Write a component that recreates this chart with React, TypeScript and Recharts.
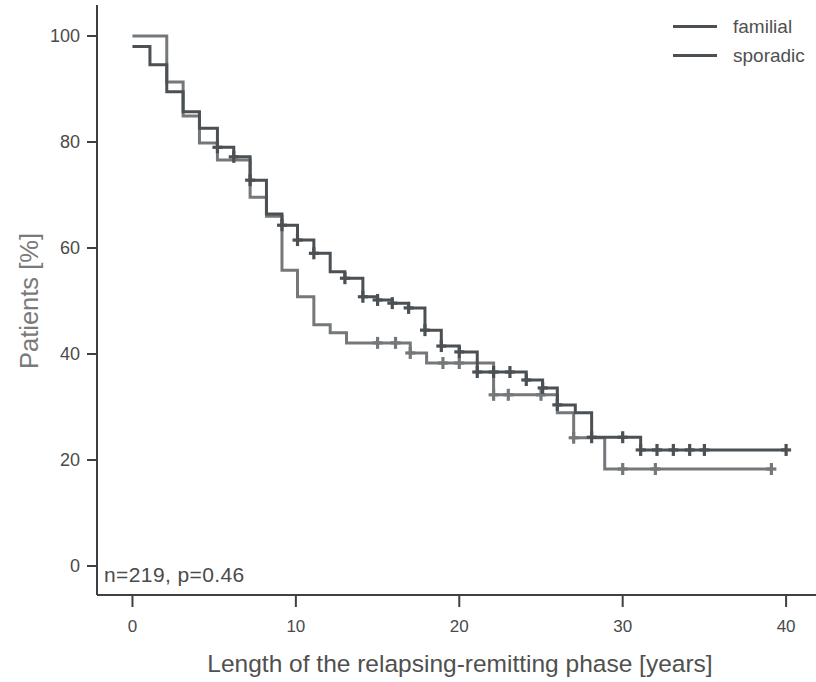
import React from 'react'
import {
  ComposedChart,
  Line,
  Scatter,
  XAxis,
  YAxis,
  Label,
} from 'recharts'

// Kaplan-Meier steps: t = years, s = % patients
const familialSteps = [
  { t: 0, s: 98 },
  { t: 1.07, s: 94.6 },
  { t: 2.1, s: 89.5 },
  { t: 3.1, s: 85.7 },
  { t: 4.1, s: 82.6 },
  { t: 5.2, s: 79 },
  { t: 6.2, s: 77.2 },
  { t: 7.2, s: 72.8 },
  { t: 8.2, s: 66.4 },
  { t: 9.15, s: 64.3 },
  { t: 10.1, s: 61.5 },
  { t: 11.1, s: 59 },
  { t: 12.1, s: 55.5 },
  { t: 13.0, s: 54.3 },
  { t: 14.1, s: 50.8 },
  { t: 15.0, s: 50.2 },
  { t: 15.9, s: 49.6 },
  { t: 16.9, s: 48.7 },
  { t: 17.9, s: 44.5 },
  { t: 18.9, s: 41.5 },
  { t: 20.0, s: 40.4 },
  { t: 21.1, s: 36.6 },
  { t: 24.1, s: 35.1 },
  { t: 25.1, s: 33.6 },
  { t: 26.0, s: 30.4 },
  { t: 27.1, s: 28.9 },
  { t: 28.1, s: 24.3 },
  { t: 31.1, s: 21.9 },
  { t: 40.0, s: 21.9 },
]

const familialCensored = [
  { t: 5.2, s: 79 },
  { t: 6.2, s: 77.2 },
  { t: 7.2, s: 72.8 },
  { t: 9.15, s: 64.3 },
  { t: 10.1, s: 61.5 },
  { t: 11.1, s: 59 },
  { t: 13.0, s: 54.3 },
  { t: 14.1, s: 50.8 },
  { t: 15.0, s: 50.2 },
  { t: 15.9, s: 49.6 },
  { t: 16.9, s: 48.7 },
  { t: 17.9, s: 44.5 },
  { t: 18.9, s: 41.5 },
  { t: 20.0, s: 40.4 },
  { t: 21.1, s: 36.6 },
  { t: 22.1, s: 36.6 },
  { t: 23.1, s: 36.6 },
  { t: 24.1, s: 35.1 },
  { t: 25.1, s: 33.6 },
  { t: 26.0, s: 30.4 },
  { t: 28.1, s: 24.3 },
  { t: 30.0, s: 24.3 },
  { t: 31.1, s: 21.9 },
  { t: 32.1, s: 21.9 },
  { t: 33.1, s: 21.9 },
  { t: 34.1, s: 21.9 },
  { t: 35.0, s: 21.9 },
  { t: 40.0, s: 21.9 },
]

const sporadicSteps = [
  { t: 0, s: 100 },
  { t: 2.1, s: 91.3 },
  { t: 3.1, s: 84.9 },
  { t: 4.1, s: 79.8 },
  { t: 5.2, s: 76.6 },
  { t: 7.2, s: 69.6 },
  { t: 8.2, s: 66 },
  { t: 9.15, s: 55.8 },
  { t: 10.1, s: 50.8 },
  { t: 11.1, s: 45.5 },
  { t: 12.1, s: 44 },
  { t: 13.1, s: 42.1 },
  { t: 17.0, s: 40.2 },
  { t: 18.0, s: 38.3 },
  { t: 22.1, s: 32.3 },
  { t: 26.0, s: 28.9 },
  { t: 27.0, s: 24.2 },
  { t: 28.9, s: 18.3 },
  { t: 39.1, s: 18.3 },
]

const sporadicCensored = [
  { t: 15.0, s: 42.1 },
  { t: 16.1, s: 42.1 },
  { t: 17.0, s: 40.2 },
  { t: 19.0, s: 38.3 },
  { t: 20.0, s: 38.3 },
  { t: 22.1, s: 32.3 },
  { t: 23.0, s: 32.3 },
  { t: 25.0, s: 32.3 },
  { t: 27.0, s: 24.2 },
  { t: 30.0, s: 18.3 },
  { t: 32.0, s: 18.3 },
  { t: 39.1, s: 18.3 },
]

const xTicks = [0, 10, 20, 30, 40]
const yTicks = [0, 20, 40, 60, 80, 100]

const FONT = '"Liberation Sans", Arial, sans-serif'
const AXIS = '#3e4143'
const FAMILIAL = '#4a5053'
const SPORADIC = '#74787a'

const censorMark = (color: string) => (props: any) => {
  const { cx, cy } = props
  return (
    <g stroke={color} strokeWidth={3.2}>
      <line x1={cx} x2={cx} y1={cy - 6} y2={cy + 6} />
      <line x1={cx - 5} x2={cx + 5} y1={cy} y2={cy} />
    </g>
  )
}

export default function App() {
  return (
    <div style={{ position: 'absolute', left: 0, top: 0, width: 816, height: 682, background: '#fff', fontFamily: FONT }}>
      <ComposedChart width={816} height={682} margin={{ top: 5, right: 0, bottom: 0, left: 0 }}>
        <XAxis
          type="number"
          dataKey="t"
          domain={[-2.17, 41.83]}
          allowDataOverflow
          ticks={xTicks}
          height={87}
          axisLine={{ stroke: AXIS, strokeWidth: 2 }}
          tickLine={{ stroke: AXIS, strokeWidth: 2 }}
          tickSize={12}
          tickMargin={13}
          tick={{ fill: '#4a4a4a', fontSize: 17, fontFamily: FONT }}
        >
          <Label
            content={() => (
              <text x={460} y={672} textAnchor="middle" fill="#505050" fontSize={24.5} fontFamily={FONT}>
                Length of the relapsing-remitting phase [years]
              </text>
            )}
          />
        </XAxis>
        <YAxis
          type="number"
          dataKey="s"
          domain={[-5.47, 105.85]}
          allowDataOverflow
          ticks={yTicks}
          width={97}
          axisLine={{ stroke: AXIS, strokeWidth: 2 }}
          tickLine={{ stroke: AXIS, strokeWidth: 2 }}
          tickSize={10}
          tickMargin={7}
          tick={{ fill: '#4a4a4a', fontSize: 18, fontFamily: FONT }}
        >
          <Label
            content={() => (
              <text
                x={38}
                y={301}
                transform="rotate(-90 38 301)"
                textAnchor="middle"
                fill="#7a7a7a"
                fontSize={25.5}
                fontFamily={FONT}
              >
                Patients [%]
              </text>
            )}
          />
        </YAxis>
        <Line
          data={sporadicSteps}
          dataKey="s"
          type="stepAfter"
          stroke={SPORADIC}
          strokeWidth={3}
          dot={false}
          isAnimationActive={false}
        />
        <Line
          data={familialSteps}
          dataKey="s"
          type="stepAfter"
          stroke={FAMILIAL}
          strokeWidth={3}
          dot={false}
          isAnimationActive={false}
        />
        <Scatter data={sporadicCensored} dataKey="s" shape={censorMark(SPORADIC)} isAnimationActive={false} />
        <Scatter data={familialCensored} dataKey="s" shape={censorMark(FAMILIAL)} isAnimationActive={false} />
      </ComposedChart>

      {/* legend */}
      <div style={{ position: 'absolute', left: 673, top: 12, color: '#505050', fontSize: 19, lineHeight: '29px' }}>
        {[
          { name: 'familial', color: FAMILIAL },
          { name: 'sporadic', color: FAMILIAL },
        ].map((item) => (
          <div key={item.name} style={{ display: 'flex', alignItems: 'center' }}>
            <span style={{ display: 'inline-block', width: 44, height: 3, background: item.color, marginRight: 16 }} />
            {item.name}
          </div>
        ))}
      </div>

      <div style={{ position: 'absolute', left: 104, top: 563, color: '#4a4a4a', fontSize: 21, letterSpacing: 0.4 }}>
        n=219, p=0.46
      </div>
    </div>
  )
}
